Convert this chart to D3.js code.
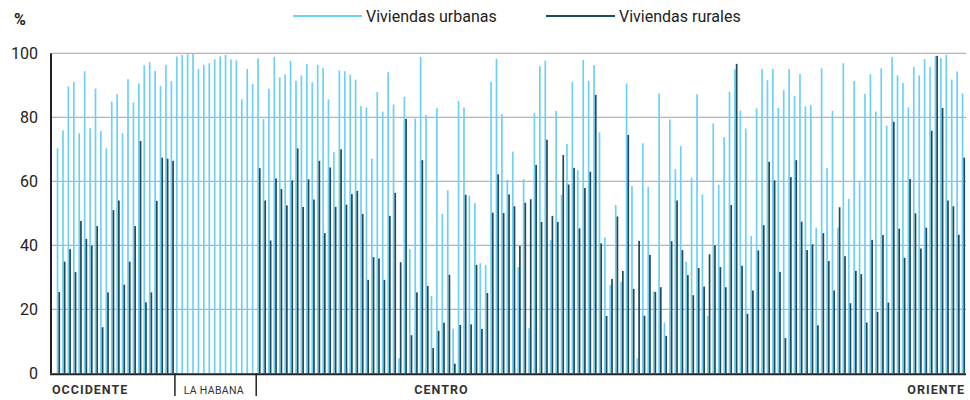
<!DOCTYPE html>
<html>
<head>
<meta charset="utf-8">
<script src="https://cdn.jsdelivr.net/npm/d3@7"></script>
<style>
  body { margin: 0; background: #fff; }
  svg text { font-family: Roboto, "Noto Sans", sans-serif; }
</style>
</head>
<body>
<div id="chart"></div>
<script>
// share of dwellings (%) per municipality
var urbanas = [
  70.3, 75.9, 89.6, 91.1, 75.0, 94.4, 76.6, 89.0, 75.7, 70.3, 84.9, 87.2, 75.0, 91.9,
  84.6, 90.6, 96.3, 97.2, 94.5, 89.8, 96.4, 91.3,
  99.0, 99.5, 99.7, 99.8, 95.1, 96.4, 96.9, 98.1, 99.0, 99.5, 98.1, 97.8, 85.6, 95.1, 90.4,
  98.4, 79.5, 88.9, 98.9, 92.5, 93.4, 97.6, 91.4, 93.1, 96.6, 90.9, 96.4, 95.4, 85.6,
  69.1, 94.6, 94.4, 93.3, 91.8, 83.5, 83.1, 67.1, 87.9, 81.8, 94.1, 84.0, 4.7, 86.4,
  38.8, 79.6, 98.9, 80.7, 24.2, 82.9, 49.8, 57.2, 13.9, 85.1, 83.1, 55.5, 53.2, 34.4,
  33.9, 91.1, 98.3, 81.0, 60.4, 69.3, 33.2, 60.7, 14.1, 81.3, 96.0, 97.7, 41.6, 82.0,
  55.8, 71.7, 91.1, 63.5, 97.9, 91.4, 96.3, 75.3, 42.5, 27.6, 52.6, 28.6, 90.6, 58.5,
  4.7, 71.9, 58.3, 25.7, 87.5, 15.9, 79.3, 63.8, 71.0, 34.9, 61.1, 87.2, 55.9, 17.9,
  78.1, 58.9, 73.8, 88.0, 95.0, 82.1, 76.5, 42.9, 82.8, 95.1, 91.6, 95.1, 82.9, 88.5,
  95.1, 86.7, 93.5, 83.4, 83.8, 45.5, 95.3, 64.2, 82.0, 45.5, 96.9, 54.5, 91.3, 60.0,
  87.3, 93.5, 81.8, 95.3, 77.4, 98.9, 93.1, 90.7, 83.1, 95.7, 93.1, 98.2, 95.7, 99.2,
  98.5, 99.5, 91.8, 94.3, 87.5
];
var rurales = [
  25.4, 34.9, 38.8, 31.6, 47.6, 42.0, 39.9, 46.0, 14.4, 25.3, 51.0, 54.0, 27.7, 34.9,
  46.0, 72.6, 22.2, 25.3, 53.9, 67.4, 67.1, 66.4,
  null, null, null, null, null, null, null, null, null, null, null, null, null, null, null,
  64.1, 54.0, 41.5, 60.9, 57.6, 52.5, 60.3, 70.3, 52.0, 60.6, 54.3, 66.4, 43.8, 64.3,
  52.0, 70.0, 52.7, 56.0, 57.0, 49.8, 29.2, 36.3, 35.9, 29.2, 49.2, 56.4, 34.7, 79.5,
  11.9, 25.3, 66.6, 27.3, 7.9, 13.3, 15.8, 30.8, 3.0, 15.1, 55.8, 15.3, 33.9, 13.9,
  25.1, 50.2, 62.2, 50.1, 55.9, 52.2, 39.8, 53.3, 54.4, 65.1, 47.3, 73.0, 49.2, 47.3,
  68.2, 59.0, 64.2, 45.3, 57.9, 63.0, 87.0, 40.6, 17.9, 29.5, 49.0, 32.0, 74.5, 26.4,
  41.4, 18.0, 37.0, 25.4, 26.9, 11.7, 41.3, 54.0, 38.5, 30.7, 24.4, 32.9, 27.1, 37.2,
  40.0, 33.2, 26.9, 52.6, 96.7, 33.6, 18.6, 25.9, 38.4, 46.3, 66.1, 60.3, 31.7, 11.0,
  61.3, 66.6, 47.4, 38.5, 40.3, 15.0, 43.8, 35.1, 25.9, 51.9, 36.6, 21.9, 32.0, 31.0,
  15.9, 41.7, 19.2, 43.2, 22.1, 78.6, 45.2, 36.1, 60.7, 50.0, 39.0, 45.5, 75.8, 99.2,
  82.9, 54.0, 52.2, 43.3, 67.4
];

var yTicks = [0, 20, 40, 60, 80, 100];
var series = ["Viviendas urbanas", "Viviendas rurales"];
var colors = ["#6fd0f6", "#1d4a5c"];

// regions: first municipality index, last index, where the label sits
var regionNames = ["OCCIDENTE", "LA HABANA", "CENTRO", "ORIENTE"];
var regionFirst = [0, 22, 37, 113];
var regionLast = [21, 36, 112, 167];
var regionLabelAt = [0, 29, 71, 167];

var margin = { top: 54, right: 4, bottom: 26, left: 52 };
var width = 970, height = 400;

var svg = d3.select("#chart").append("svg")
    .attr("width", width)
    .attr("height", height);

var idx = d3.range(urbanas.length);

var x = d3.scaleBand()
    .domain(idx)
    .range([56.7, width - margin.right - 0.9])
    .paddingInner(0.37)
    .paddingOuter(0);

var xSub = d3.scaleBand()
    .domain([0, 1])
    .range([0, x.bandwidth()]);

var y = d3.scaleLinear()
    .domain([0, 100])
    .range([height - margin.bottom - 0.7, margin.top - 0.7]);

// grid
svg.append("g")
    .selectAll("line")
    .data(yTicks.filter(function(d) { return d > 0; }))
    .enter().append("line")
    .attr("x1", margin.left)
    .attr("x2", width - margin.right)
    .attr("y1", function(d) { return y(d); })
    .attr("y2", function(d) { return y(d); })
    .attr("stroke", "#b4b4b4")
    .attr("stroke-width", 1.2);

// bars
var groups = svg.append("g").selectAll("g")
    .data(idx)
    .enter().append("g")
    .attr("transform", function(i) { return "translate(" + x(i) + ",0)"; });

groups.append("rect")
    .attr("x", xSub(0))
    .attr("width", xSub.bandwidth())
    .attr("y", function(i) { return y(urbanas[i]); })
    .attr("height", function(i) { return y(0) - y(urbanas[i]); })
    .attr("fill", colors[0]);

groups.filter(function(i) { return rurales[i] != null; })
    .append("rect")
    .attr("x", xSub(1))
    .attr("width", xSub.bandwidth())
    .attr("y", function(i) { return y(rurales[i]); })
    .attr("height", function(i) { return y(0) - y(rurales[i]); })
    .attr("fill", colors[1]);

// axes
svg.append("line")
    .attr("x1", margin.left - 1).attr("x2", margin.left - 1)
    .attr("y1", y(100)).attr("y2", y(0))
    .attr("stroke", "#222").attr("stroke-width", 2);

svg.append("line")
    .attr("x1", margin.left - 2).attr("x2", width - margin.right)
    .attr("y1", y(0) + 1).attr("y2", y(0) + 1)
    .attr("stroke", "#222").attr("stroke-width", 2);

svg.append("g").selectAll("text")
    .data(yTicks)
    .enter().append("text")
    .attr("x", 38)
    .attr("y", function(d) { return y(d); })
    .attr("dy", "0.36em")
    .attr("text-anchor", "end")
    .attr("font-size", 16)
    .attr("fill", "#222")
    .text(function(d) { return d; });

svg.append("text")
    .attr("x", 14).attr("y", 25)
    .attr("font-size", 16)
    .attr("font-weight", "bold")
    .attr("fill", "#222")
    .text("%");

// region separators + labels
svg.append("g").selectAll("line")
    .data(regionFirst.slice(1, 3))
    .enter().append("line")
    .attr("x1", function(i) { return x(i) - 1; })
    .attr("x2", function(i) { return x(i) - 1; })
    .attr("y1", y(0))
    .attr("y2", height - 4)
    .attr("stroke", "#222")
    .attr("stroke-width", 1.5);

svg.append("g").selectAll("text")
    .data(regionNames)
    .enter().append("text")
    .attr("x", function(d, k) {
        if (k === 0) return margin.left;
        if (k === regionNames.length - 1) return x(regionLast[k]) + x.bandwidth();
        return x(regionLabelAt[k]);
    })
    .attr("y", 394)
    .attr("text-anchor", function(d, k) {
        if (k === 0) return "start";
        if (k === regionNames.length - 1) return "end";
        return "middle";
    })
    .attr("font-size", function(d, k) { return k === 1 ? 10.5 : 12.5; })
    .attr("font-weight", function(d, k) { return k === 1 ? "normal" : "bold"; })
    .attr("letter-spacing", function(d, k) { return k === 1 ? 0.3 : 1; })
    .attr("fill", "#333")
    .text(function(d) { return d; });

// legend
var legendX = [293, 546];
var legend = svg.append("g").selectAll("g")
    .data(series)
    .enter().append("g")
    .attr("transform", function(d, k) { return "translate(" + legendX[k] + ",16)"; });

legend.append("line")
    .attr("x1", 0).attr("x2", 69)
    .attr("stroke", function(d, k) { return colors[k]; })
    .attr("stroke-width", 2);

legend.append("text")
    .attr("x", 73)
    .attr("dy", "0.35em")
    .attr("font-size", 16)
    .attr("fill", "#222")
    .text(function(d) { return d; });
</script>
</body>
</html>
